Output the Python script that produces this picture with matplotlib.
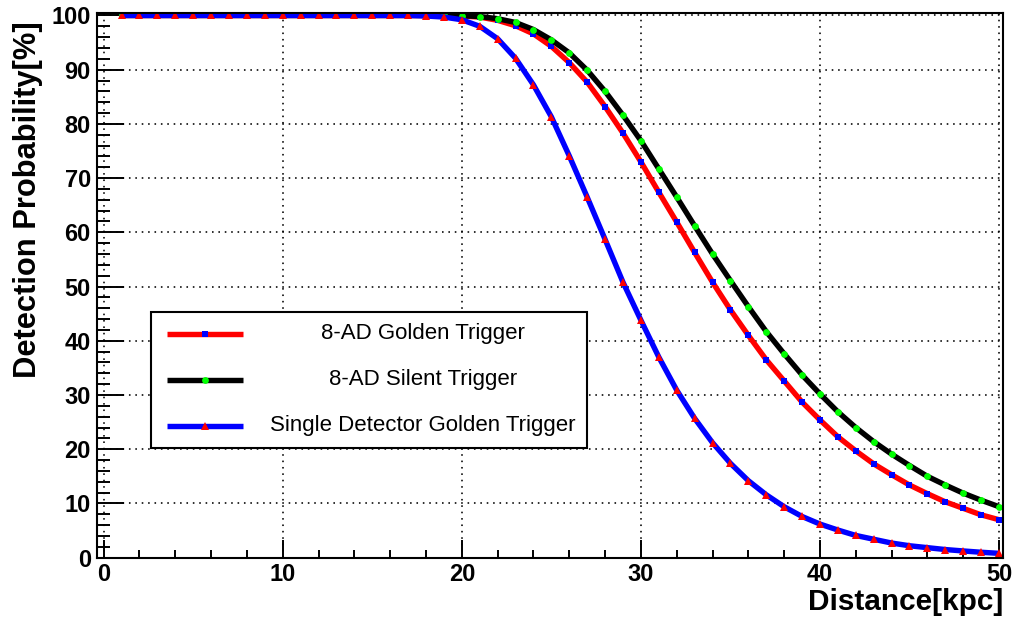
#Detection probability vs distance
#Import the libraries
import numpy as np
import matplotlib
matplotlib.use("Agg")
import matplotlib.pyplot as plt
from matplotlib.patches import Rectangle
from matplotlib.lines import Line2D

plt.rcParams['font.family'] = ['Liberation Sans', 'DejaVu Sans']

#Data
distance = list(range(1, 51))
golden_8ad = [100.0] * 19 + [99.9, 99.7, 99.1, 98.1, 96.6, 94.3, 91.3, 87.7, 83.2, 78.3,
                             73.0, 67.4, 61.9, 56.3, 50.8, 45.7, 41.0, 36.5, 32.6, 28.7,
                             25.4, 22.3, 19.7, 17.3, 15.3, 13.4, 11.8, 10.3, 9.1, 7.9, 7.0]
silent_8ad = [100.0] * 19 + [99.95, 99.8, 99.4, 98.7, 97.4, 95.5, 93.1, 89.9, 86.0, 81.6,
                             76.9, 71.7, 66.5, 61.2, 56.0, 51.1, 46.3, 41.7, 37.6, 33.7,
                             30.2, 26.9, 24.0, 21.4, 19.1, 17.0, 15.0, 13.4, 11.9, 10.6, 9.4]
single_golden = [100.0] * 17 + [99.9, 99.7, 99.2, 98.0, 95.7, 92.1, 87.2, 81.3, 74.1, 66.5,
                                58.7, 50.8, 43.8, 37.0, 30.9, 25.7, 21.2, 17.4, 14.2, 11.6,
                                9.4, 7.6, 6.2, 5.1, 4.1, 3.4, 2.7, 2.2, 1.85, 1.5, 1.24, 1.0, 0.8]
labels = ["8-AD Golden Trigger", "8-AD Silent Trigger", "Single Detector Golden Trigger"]

#Styles: line colour, marker, marker colour, marker size
styles = [("#ff0000", "s", "#0000ff", 4.5),
          ("#000000", "o", "#00ff00", 4.9),
          ("#0000ff", "^", "#ff0000", 5.5)]
series = [golden_8ad, silent_8ad, single_golden]

fig = plt.figure(figsize=(10.13, 6.22), dpi=100)
ax = fig.add_axes([0.0958, 0.1034, 0.8943, 0.8757])

for vals, (lc, mk, mc, ms) in zip(series, styles):
    ax.plot(distance, vals, color=lc, lw=3.9, marker=mk, ms=ms,
            mfc=mc, mec=mc, mew=0, solid_capstyle='butt')

ax.set_xlim(-0.37, 50.22)
ax.set_ylim(0, 100.45)
ax.set_xticks(np.arange(0, 51, 10))
ax.set_xticks(np.arange(0, 51, 2), minor=True)
ax.set_yticks(np.arange(0, 101, 10))
ax.set_yticks(np.arange(0, 101, 2), minor=True)

ax.grid(True, which='major', color='black', linestyle=(0, (1, 3)), lw=1.15)
ax.tick_params(axis='x', which='major', direction='in', length=13, width=1.4, pad=3.5, labelsize=17)
ax.tick_params(axis='x', which='minor', direction='in', length=5.7, width=1.4)
ax.tick_params(axis='y', which='major', direction='in', length=19.5, width=1.4, pad=4.5, labelsize=17)
ax.tick_params(axis='y', which='minor', direction='in', length=9.5, width=1.4)
for lab in ax.get_xticklabels() + ax.get_yticklabels():
    lab.set_fontweight('bold')
for sp in ax.spines.values():
    sp.set_linewidth(1.5)

ax.set_xlabel("Distance[kpc]", fontsize=21.4, fontweight='bold', loc='right')
ax.set_ylabel("Detection Probability[%]", fontsize=22.2, fontweight='bold', loc='top')
ax.xaxis.set_label_coords(1.0, -0.055)
ax.yaxis.set_label_coords(-0.06, 0.985)

#Legend box drawn by hand so the text is centred like the original
ax.add_patch(Rectangle((0.0596, 0.2014), 0.4814, 0.2496, transform=ax.transAxes,
                       facecolor='white', edgecolor='black', lw=1.5, zorder=5))
rows = [0.4107, 0.3263, 0.2423]
for y, lab, (lc, mk, mc, ms) in zip(rows, labels, styles):
    ax.add_line(Line2D([0.0773, 0.161], [y, y], transform=ax.transAxes,
                       color=lc, lw=3.9, solid_capstyle='butt', zorder=6))
    ax.add_line(Line2D([0.119], [y], transform=ax.transAxes, marker=mk, ms=ms,
                       mfc=mc, mec=mc, mew=0, ls='none', zorder=7))
    ax.text(0.36, y, lab, transform=ax.transAxes, ha='center', va='center',
            fontsize=16, zorder=7)

fig.savefig("out.png", dpi=100)
